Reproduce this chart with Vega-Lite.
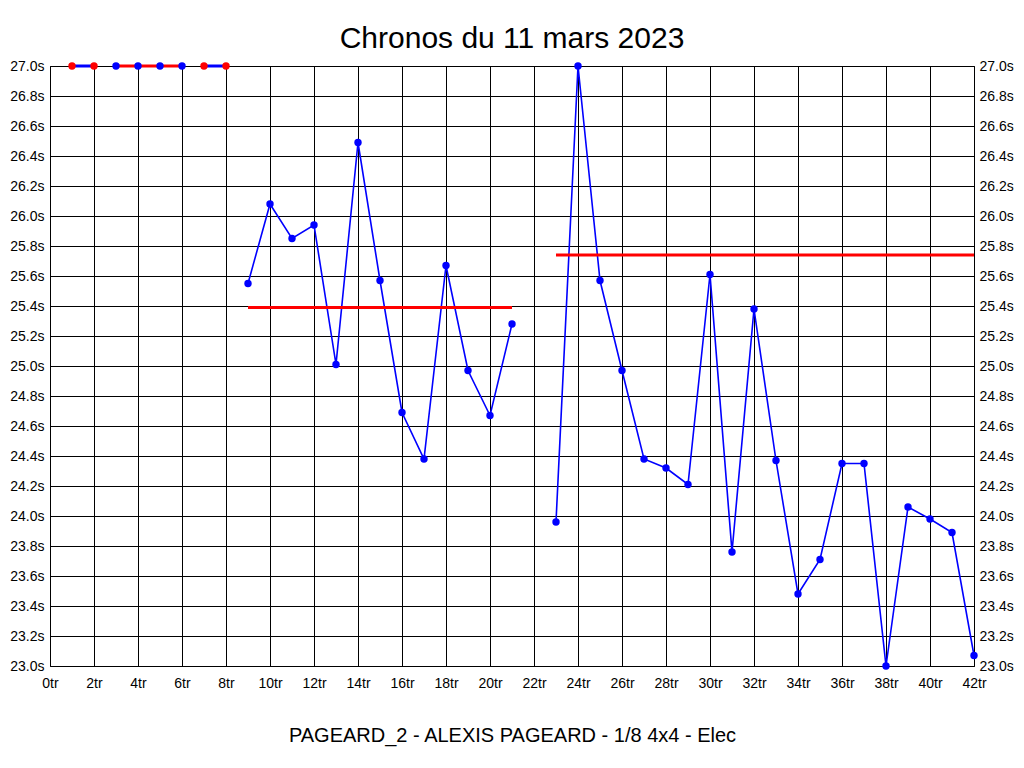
{
  "$schema": "https://vega.github.io/schema/vega-lite/v6.json",
  "width": 924,
  "height": 600,
  "autosize": {"type": "none"},
  "padding": {"left": 50, "top": 66, "right": 50, "bottom": 102},
  "background": "white",
  "title": {"text": "Chronos du 11 mars 2023", "fontSize": 30, "font": "Liberation Sans", "fontWeight": "normal", "color": "black", "anchor": "middle", "frame": "group", "baseline": "alphabetic", "offset": -19},
  "config": {
    "view": {"stroke": "black", "strokeWidth": 1},
    "axis": {"gridColor": "black", "gridOpacity": 1, "gridWidth": 1, "tickSize": 0, "domain": false, "labelColor": "black", "labelFont": "Liberation Sans", "labelFontSize": 14, "labelOverlap": false, "labelFlush": false}
  },
  "datasets": {
    "laps": [
      {"lap": 1, "t": 27.0, "seg": "s1", "status": "flag"},
      {"lap": 2, "t": 27.0, "seg": "s1", "status": "flag"},
      {"lap": 3, "t": 27.0, "seg": "s0", "status": "ok"},
      {"lap": 4, "t": 27.0, "seg": "s0", "status": "ok"},
      {"lap": 5, "t": 27.0, "seg": "s0", "status": "ok"},
      {"lap": 6, "t": 27.0, "seg": "s0", "status": "ok"},
      {"lap": 7, "t": 27.0, "seg": "s2", "status": "flag"},
      {"lap": 8, "t": 27.0, "seg": "s2", "status": "flag"},
      {"lap": 9, "t": 25.55, "seg": "B", "status": "ok"},
      {"lap": 10, "t": 26.08, "seg": "B", "status": "ok"},
      {"lap": 11, "t": 25.85, "seg": "B", "status": "ok"},
      {"lap": 12, "t": 25.94, "seg": "B", "status": "ok"},
      {"lap": 13, "t": 25.01, "seg": "B", "status": "ok"},
      {"lap": 14, "t": 26.49, "seg": "B", "status": "ok"},
      {"lap": 15, "t": 25.57, "seg": "B", "status": "ok"},
      {"lap": 16, "t": 24.69, "seg": "B", "status": "ok"},
      {"lap": 17, "t": 24.38, "seg": "B", "status": "ok"},
      {"lap": 18, "t": 25.67, "seg": "B", "status": "ok"},
      {"lap": 19, "t": 24.97, "seg": "B", "status": "ok"},
      {"lap": 20, "t": 24.67, "seg": "B", "status": "ok"},
      {"lap": 21, "t": 25.28, "seg": "B", "status": "ok"},
      {"lap": 23, "t": 23.96, "seg": "C", "status": "ok"},
      {"lap": 24, "t": 27.0, "seg": "C", "status": "ok"},
      {"lap": 25, "t": 25.57, "seg": "C", "status": "ok"},
      {"lap": 26, "t": 24.97, "seg": "C", "status": "ok"},
      {"lap": 27, "t": 24.38, "seg": "C", "status": "ok"},
      {"lap": 28, "t": 24.32, "seg": "C", "status": "ok"},
      {"lap": 29, "t": 24.21, "seg": "C", "status": "ok"},
      {"lap": 30, "t": 25.61, "seg": "C", "status": "ok"},
      {"lap": 31, "t": 23.76, "seg": "C", "status": "ok"},
      {"lap": 32, "t": 25.38, "seg": "C", "status": "ok"},
      {"lap": 33, "t": 24.37, "seg": "C", "status": "ok"},
      {"lap": 34, "t": 23.48, "seg": "C", "status": "ok"},
      {"lap": 35, "t": 23.71, "seg": "C", "status": "ok"},
      {"lap": 36, "t": 24.35, "seg": "C", "status": "ok"},
      {"lap": 37, "t": 24.35, "seg": "C", "status": "ok"},
      {"lap": 38, "t": 23.0, "seg": "C", "status": "ok"},
      {"lap": 39, "t": 24.06, "seg": "C", "status": "ok"},
      {"lap": 40, "t": 23.98, "seg": "C", "status": "ok"},
      {"lap": 41, "t": 23.89, "seg": "C", "status": "ok"},
      {"lap": 42, "t": 23.07, "seg": "C", "status": "ok"}
    ],
    "avg": [
      {"lap": 3, "t": 27.0, "grp": "a"},
      {"lap": 6, "t": 27.0, "grp": "a"},
      {"lap": 9, "t": 25.39, "grp": "b"},
      {"lap": 21, "t": 25.39, "grp": "b"},
      {"lap": 23, "t": 25.74, "grp": "c"},
      {"lap": 42, "t": 25.74, "grp": "c"}
    ]
  },
  "layer": [
    {
      "data": {"name": "laps"},
      "transform": [{"filter": "datum.seg == 'B' || datum.seg == 'C'"}],
      "mark": {"type": "line", "color": "#0000ff", "strokeWidth": 1.6},
      "encoding": {
        "x": {"field": "lap", "type": "quantitative", "scale": {"domain": [0, 42], "nice": false, "zero": false},
          "axis": {"values": [0,2,4,6,8,10,12,14,16,18,20,22,24,26,28,30,32,34,36,38,40,42], "labelExpr": "datum.value + 'tr'", "grid": true, "labelPadding": 10,
            "title": "PAGEARD_2 - ALEXIS PAGEARD - 1/8 4x4 - Elec", "titleFont": "Liberation Sans", "titleFontSize": 20, "titleFontWeight": "normal", "titleColor": "black", "titlePadding": 35}},
        "y": {"field": "t", "type": "quantitative", "scale": {"domain": [23, 27], "nice": false, "zero": false},
          "axis": {"orient": "left", "values": [23,23.2,23.4,23.6,23.8,24,24.2,24.4,24.6,24.8,25,25.2,25.4,25.6,25.8,26,26.2,26.4,26.6,26.8,27], "labelExpr": "format(datum.value, '.1f') + 's'", "grid": true, "labelPadding": 6, "title": null}},
        "detail": {"field": "seg"}
      }
    },
    {
      "data": {"name": "laps"},
      "transform": [{"filter": "datum.seg == 's1' || datum.seg == 's2'"}],
      "mark": {"type": "line", "color": "#0000ff", "strokeWidth": 3},
      "encoding": {
        "x": {"field": "lap", "type": "quantitative"},
        "y": {"field": "t", "type": "quantitative", "axis": null},
        "detail": {"field": "seg"}
      }
    },
    {
      "data": {"name": "avg"},
      "mark": {"type": "line", "color": "#ff0000", "strokeWidth": 3},
      "encoding": {
        "x": {"field": "lap", "type": "quantitative"},
        "y": {"field": "t", "type": "quantitative", "axis": null},
        "detail": {"field": "grp"}
      }
    },
    {
      "data": {"name": "laps"},
      "mark": {"type": "point", "filled": true, "opacity": 1, "size": 55},
      "encoding": {
        "x": {"field": "lap", "type": "quantitative"},
        "y": {"field": "t", "type": "quantitative",
          "axis": {"orient": "right", "values": [23,23.2,23.4,23.6,23.8,24,24.2,24.4,24.6,24.8,25,25.2,25.4,25.6,25.8,26,26.2,26.4,26.6,26.8,27], "labelExpr": "format(datum.value, '.1f') + 's'", "grid": false, "labelPadding": 5, "title": null}},
        "color": {"field": "status", "type": "nominal", "scale": {"domain": ["ok", "flag"], "range": ["#0000ff", "#ff0000"]}, "legend": null}
      }
    }
  ],
  "resolve": {"axis": {"y": "independent"}}
}
